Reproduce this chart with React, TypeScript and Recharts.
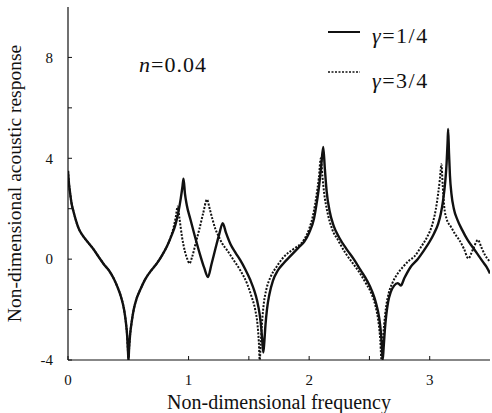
import { LineChart, Line, XAxis, YAxis, Legend } from 'recharts';

// γ = 1/4 (solid)
const freqQuarter = [
  0, 0.008, 0.018, 0.03, 0.045, 0.065, 0.09, 0.12, 0.16, 0.21, 0.26, 0.3, 0.34, 0.377, 0.41, 0.44,
  0.465, 0.48, 0.49, 0.498, 0.502, 0.506, 0.515, 0.528, 0.545, 0.57, 0.6, 0.64, 0.69, 0.737, 0.78,
  0.82, 0.86, 0.89, 0.915, 0.935, 0.95, 0.958, 0.97, 0.985, 1.014, 1.05, 1.097, 1.13, 1.161, 1.19,
  1.222, 1.255, 1.283, 1.31, 1.347, 1.39, 1.43, 1.47, 1.513, 1.545, 1.568, 1.59, 1.604, 1.614,
  1.62, 1.628, 1.638, 1.65, 1.67, 1.7, 1.74, 1.79, 1.85, 1.91, 1.96, 2.0, 2.04, 2.065, 2.085, 2.1,
  2.117, 2.13, 2.145, 2.17, 2.205, 2.25, 2.316, 2.37, 2.427, 2.48, 2.524, 2.555, 2.58, 2.595,
  2.605, 2.61, 2.618, 2.628, 2.64, 2.655, 2.677, 2.705, 2.735, 2.76, 2.79, 2.843, 2.9, 2.954, 3.0,
  3.037, 3.07, 3.092, 3.11, 3.128, 3.14, 3.148, 3.153, 3.16, 3.168, 3.18, 3.2, 3.23, 3.27, 3.314,
  3.36, 3.397, 3.44, 3.47, 3.5,
];
const respQuarter = [
  3.5, 3.0, 2.6, 2.2, 1.9, 1.55, 1.2, 0.95, 0.7, 0.4, 0.05, -0.22, -0.45, -0.75, -1.1, -1.5,
  -2.0, -2.5, -3.0, -3.7, -4, -3.6, -3.0, -2.5, -2.0, -1.55, -1.2, -0.8, -0.45, -0.17, 0.15,
  0.5, 0.95, 1.35, 1.85, 2.4, 2.9, 3.19, 2.6, 2.15, 1.6, 0.95, 0.15, -0.35, -0.71, -0.2,
  0.4, 1.0, 1.43, 1.05, 0.6, 0.25, -0.05, -0.4, -0.84, -1.25, -1.64, -2.2, -2.8, -3.4,
  -3.7, -3.3, -2.6, -2.0, -1.4, -0.85, -0.45, -0.15, 0.15, 0.45, 0.7, 1.05, 1.6, 2.3, 3.0, 3.7,
  4.45, 3.6, 2.7, 1.9, 1.3, 0.85, 0.36, 0.0, -0.44, -0.85, -1.3, -1.75, -2.3, -2.9,
  -3.6, -4, -3.5, -2.8, -2.2, -1.7, -1.3, -1.05, -0.95, -1.05, -0.75, -0.3, 0.0, 0.36, 0.7,
  1.03, 1.4, 1.8, 2.3, 3.03, 3.8, 4.6, 5.16, 4.2, 3.3, 2.6, 2.0, 1.56, 1.15, 0.76,
  0.45, 0.2, -0.1, -0.3, -0.57,
];

// γ = 3/4 (dotted)
const freqThreeQuarter = [
  0, 0.008, 0.018, 0.03, 0.045, 0.065, 0.09, 0.12, 0.16, 0.21, 0.26, 0.3, 0.34, 0.377, 0.41, 0.44,
  0.465, 0.48, 0.49, 0.498, 0.502, 0.506, 0.515, 0.528, 0.545, 0.57, 0.6, 0.64, 0.69, 0.737, 0.78,
  0.82, 0.85, 0.875, 0.895, 0.909, 0.925, 0.945, 0.97, 0.99, 1.008, 1.03, 1.06, 1.09, 1.12, 1.153,
  1.175, 1.2, 1.222, 1.25, 1.278, 1.32, 1.374, 1.43, 1.485, 1.52, 1.554, 1.572, 1.583, 1.59,
  1.598, 1.608, 1.623, 1.645, 1.68, 1.73, 1.79, 1.87, 1.956, 2.0, 2.035, 2.06, 2.08, 2.097, 2.11,
  2.125, 2.15, 2.19, 2.24, 2.3, 2.36, 2.42, 2.47, 2.515, 2.55, 2.575, 2.59, 2.6, 2.61, 2.622,
  2.638, 2.66, 2.69, 2.73, 2.78, 2.83, 2.87, 2.93, 2.98, 3.02, 3.05, 3.07, 3.085, 3.097, 3.108,
  3.12, 3.14, 3.175, 3.21, 3.245, 3.285, 3.32, 3.36, 3.4, 3.43, 3.46, 3.5,
];
const respThreeQuarter = [
  3.5, 3.0, 2.6, 2.2, 1.9, 1.55, 1.2, 0.95, 0.7, 0.4, 0.05, -0.22, -0.45, -0.75, -1.1, -1.5,
  -2.0, -2.5, -3.0, -3.7, -4, -3.6, -3.0, -2.5, -2.0, -1.55, -1.2, -0.8, -0.45, -0.17, 0.15,
  0.5, 0.85, 1.25, 1.7, 2.09, 1.6, 0.9, 0.3, 0.0, -0.17, 0.1, 0.65, 1.2, 1.8, 2.36,
  2.0, 1.55, 1.2, 0.9, 0.63, 0.35, -0.04, -0.45, -0.97, -1.45, -2.04, -2.6, -3.3, -4,
  -3.4, -2.6, -1.8, -1.2, -0.71, -0.3, 0.09, 0.4, 0.76, 1.2, 1.8, 2.5, 3.2, 4.0, 3.3,
  2.6, 1.9, 1.2, 0.75, 0.25, -0.15, -0.55, -0.95, -1.35, -1.85, -2.5, -3.2, -4, -3.3, -2.6,
  -1.9, -1.35, -0.95, -0.6, -0.3, -0.05, 0.09, 0.5, 0.89, 1.35, 1.96, 2.6, 3.2, 3.76, 2.9,
  2.1, 1.6, 1.29, 1.0, 0.76, 0.4, 0.03, 0.4, 0.76, 0.45, 0.15, -0.1,
];

const xTicks = [0, 0.5, 1, 1.5, 2, 2.5, 3];
const xLabelled = [0, 1, 2, 3];
const yTicks = [-4, -2, 0, 2, 4, 6, 8];
const yLabelled = [-4, 0, 4, 8];

const quarterData = freqQuarter.map((f, i) => ({ f, v: respQuarter[i] }));
const threeQuarterData = freqThreeQuarter.map((f, i) => ({ f, v: respThreeQuarter[i] }));

const INK = '#111';
const SERIF = '"Liberation Serif", "Times New Roman", serif';
const X_MARGIN = 14;
const Y_MARGIN = 15;

function XTick(props: any) {
  const { x, y, payload } = props;
  const axisY = y - X_MARGIN;
  const show = xLabelled.includes(payload.value);
  return (
    <g>
      <line x1={x} y1={axisY} x2={x} y2={axisY - 4} stroke={INK} strokeWidth={1} />
      {show && (
        <text x={x} y={y} dy="0.71em" textAnchor="middle" style={{ fontSize: 15, fontFamily: SERIF, fill: INK }}>
          {payload.value}
        </text>
      )}
    </g>
  );
}

function YTick(props: any) {
  const { x, y, payload } = props;
  const axisX = x + Y_MARGIN;
  const show = yLabelled.includes(payload.value);
  return (
    <g>
      <line x1={axisX} y1={y} x2={axisX + 4} y2={y} stroke={INK} strokeWidth={1} />
      {show && (
        <text x={x} y={y} dy="0.355em" textAnchor="end" style={{ fontSize: 15, fontFamily: SERIF, fill: INK }}>
          {payload.value}
        </text>
      )}
    </g>
  );
}

const legendText = { fontSize: 22, fontFamily: SERIF, fill: INK, letterSpacing: 1.5 };

function CurveLegend() {
  return (
    <svg width={170} height={90} style={{ overflow: 'visible' }}>
      <line x1={8} y1={22} x2={40} y2={22} stroke={INK} strokeWidth={2} />
      <text x={52} y={33} style={legendText}>
        <tspan style={{ fontStyle: 'italic' }}>γ</tspan>=1/4
      </text>
      <line x1={8} y1={62} x2={40} y2={62} stroke={INK} strokeWidth={1.5} strokeDasharray="2 1.5" />
      <text x={52} y={78} style={legendText}>
        <tspan style={{ fontStyle: 'italic' }}>γ</tspan>=3/4
      </text>
    </svg>
  );
}

export default function App() {
  return (
    <div style={{ position: 'absolute', left: 0, top: 0, width: 492, height: 413, background: '#fff' }}>
      <LineChart width={492} height={413} margin={{ top: 7, right: 2, bottom: 0, left: 0 }}>
        <XAxis
          dataKey="f"
          type="number"
          domain={[0, 3.5]}
          ticks={xTicks}
          allowDataOverflow
          height={53}
          tickSize={0}
          tickMargin={X_MARGIN}
          tickLine={false}
          tick={<XTick />}
          axisLine={{ stroke: INK, strokeWidth: 1.2 }}
          label={{
            value: 'Non-dimensional frequency',
            position: 'insideBottom',
            offset: 4,
            style: { fontSize: 20, fontFamily: SERIF, fill: INK },
          }}
        />
        <XAxis xAxisId="top" orientation="top" type="number" domain={[0, 3.5]} height={0} tick={false} tickLine={false} axisLine={{ stroke: INK, strokeWidth: 1.2 }} />
        <YAxis
          type="number"
          domain={[-4, 10]}
          ticks={yTicks}
          allowDataOverflow
          width={68}
          tickSize={0}
          tickMargin={Y_MARGIN}
          tickLine={false}
          tick={<YTick />}
          axisLine={{ stroke: INK, strokeWidth: 1.2 }}
          label={{
            value: 'Non-dimensional acoustic response',
            angle: -90,
            position: 'insideLeft',
            offset: 14,
            style: { fontSize: 19.5, fontFamily: SERIF, fill: INK, textAnchor: 'middle' },
          }}
        />
        <YAxis yAxisId="right" orientation="right" type="number" domain={[-4, 10]} width={0} tick={false} tickLine={false} axisLine={{ stroke: INK, strokeWidth: 1.2 }} />
        <Legend
          layout="horizontal"
          verticalAlign="middle"
          align="center"
          content={<CurveLegend />}
          wrapperStyle={{ position: 'absolute', left: 320, top: 10, width: 170, height: 90 }}
        />
        <Line
          data={threeQuarterData}
          dataKey="v"
          type="monotone"
          stroke={INK}
          strokeWidth={2}
          strokeDasharray="2 1.5"
          dot={false}
          isAnimationActive={false}
        />
        <Line
          data={quarterData}
          dataKey="v"
          type="monotone"
          stroke={INK}
          strokeWidth={2.4}
          dot={false}
          isAnimationActive={false}
        />
      </LineChart>
      <div
        style={{
          position: 'absolute',
          left: 139,
          top: 52,
          fontSize: 22,
          fontFamily: SERIF,
          color: INK,
          lineHeight: '26px',
          letterSpacing: 1,
          pointerEvents: 'none',
        }}
      >
        <i>n</i>=0.04
      </div>
    </div>
  );
}
